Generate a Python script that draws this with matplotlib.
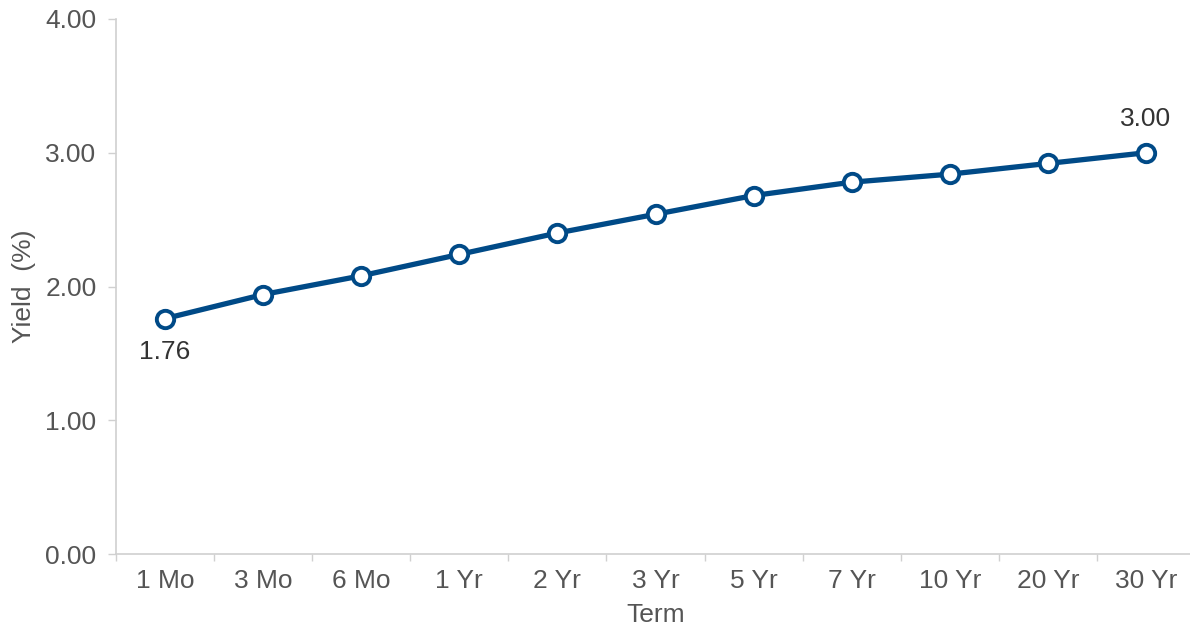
import matplotlib
matplotlib.use("Agg")
import matplotlib.pyplot as plt
import numpy as np

terms = ["1 Mo", "3 Mo", "6 Mo", "1 Yr", "2 Yr", "3 Yr", "5 Yr", "7 Yr", "10 Yr", "20 Yr", "30 Yr"]
yields = [1.76, 1.94, 2.08, 2.24, 2.40, 2.54, 2.68, 2.78, 2.84, 2.92, 3.00]
y_ticks = [0.0, 1.0, 2.0, 3.0, 4.0]

plt.rcParams['font.family'] = ['Liberation Sans', 'DejaVu Sans']

fig = plt.figure(figsize=(11.9, 6.27), dpi=100)
ax = fig.add_axes([116/1190, 73/627, 1079/1190, 535/627])

x = np.arange(len(terms))
line_color = "#004a87"
ax.plot(x, yields, color=line_color, lw=3.8, marker="o", markersize=12.5,
        markerfacecolor="white", markeredgecolor=line_color, markeredgewidth=2.8,
        solid_capstyle="round", zorder=3, clip_on=False)

ax.set_xlim(-0.5, len(terms) - 0.5)
ax.set_ylim(0, 4)
ax.set_yticks(y_ticks)
ax.set_yticklabels([f"{v:.2f}" for v in y_ticks])
ax.set_xticks(x)
ax.set_xticklabels(terms)
ax.set_xticks(np.arange(-0.5, len(terms), 1.0), minor=True)

fs = 19
tick_color = "#555555"
spine_color = "#d0d0d0"
ax.tick_params(axis="x", which="major", length=0, pad=11, labelsize=fs, labelcolor=tick_color)
ax.tick_params(axis="x", which="minor", length=5, width=1, color=spine_color)
ax.tick_params(axis="y", which="major", length=6, width=1, color=spine_color, pad=8,
               labelsize=fs, labelcolor=tick_color)

for s in ["top", "right"]:
    ax.spines[s].set_visible(False)
for s in ["left", "bottom"]:
    ax.spines[s].set_color(spine_color)
    ax.spines[s].set_linewidth(1.2)

ax.set_xlabel("Term", fontsize=fs, color=tick_color, labelpad=7)
ax.set_ylabel("Yield  (%)", fontsize=fs, color=tick_color, labelpad=7)

ax.annotate(f"{yields[0]:.2f}", (x[0], yields[0]), xytext=(0, -24), textcoords="offset points",
            ha="center", va="center", fontsize=fs, color="#333333")
ax.annotate(f"{yields[-1]:.2f}", (x[-1], yields[-1]), xytext=(0, 24), textcoords="offset points",
            ha="center", va="center", fontsize=fs, color="#333333")

fig.savefig("out.png", dpi=100)
